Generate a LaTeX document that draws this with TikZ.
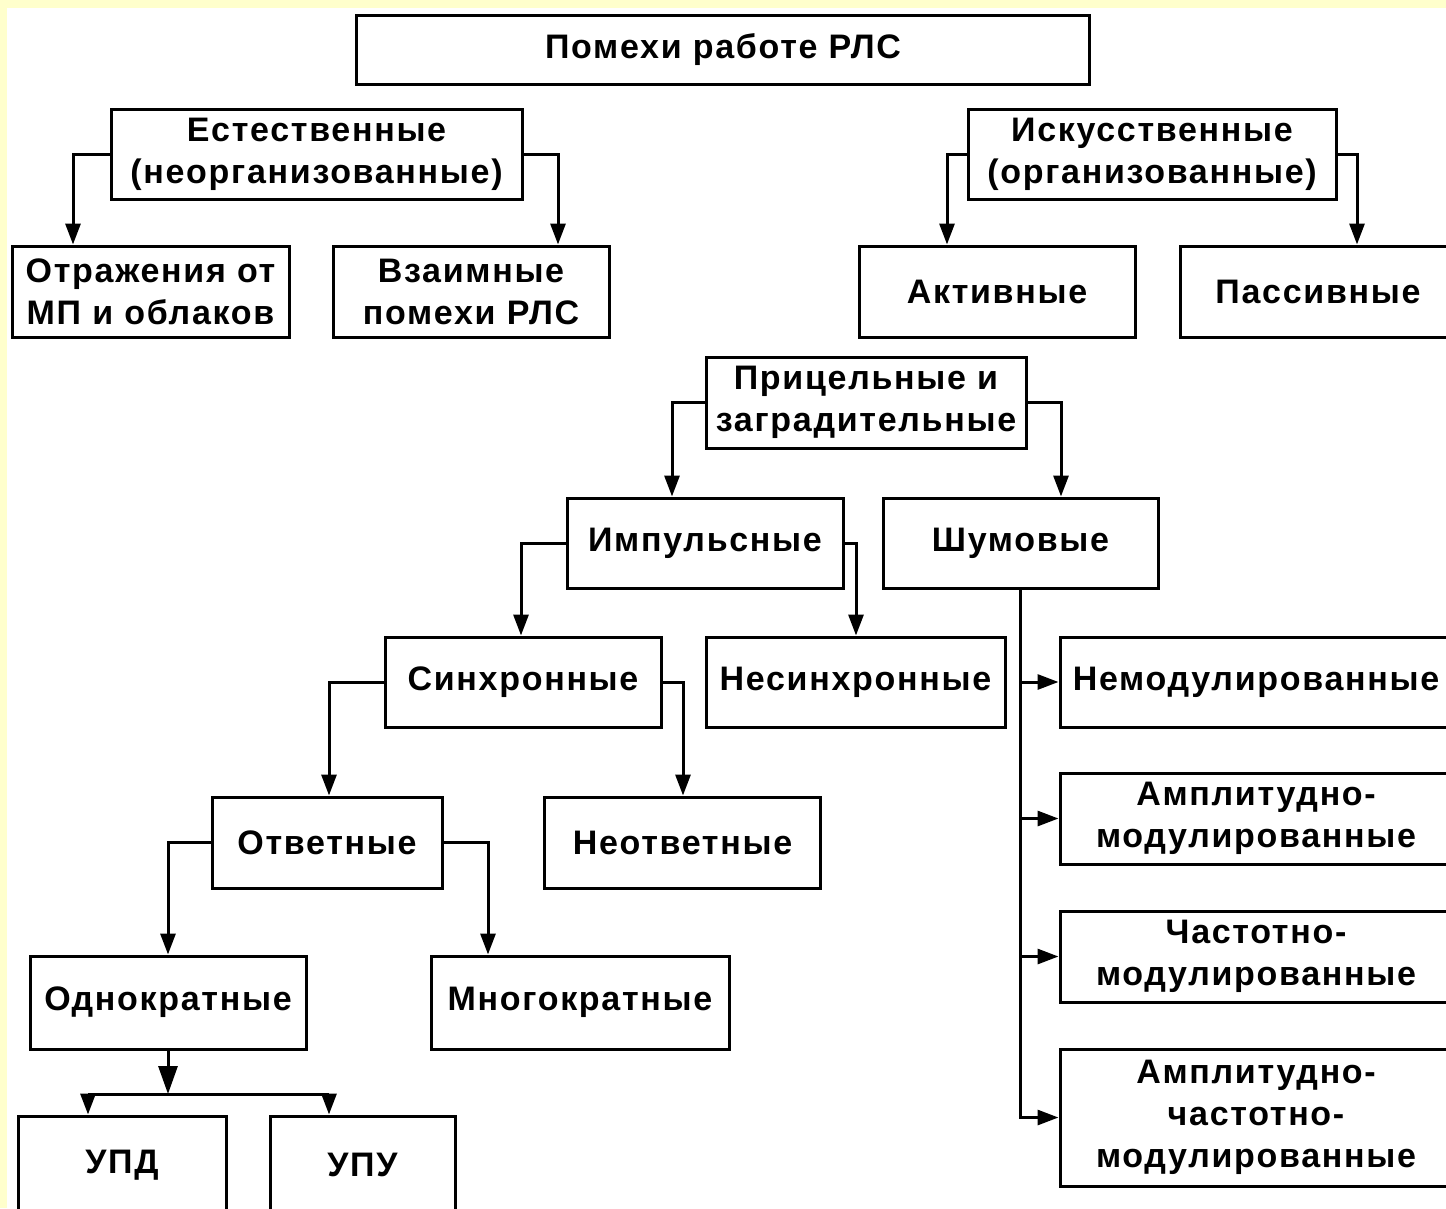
\documentclass[tikz,border=0pt]{standalone}
\usepackage{fontspec}
\setmainfont{Liberation Sans}[LetterSpace=5]
\usetikzlibrary{arrows.meta}

\definecolor{pageyellow}{HTML}{FFFFCC}

\begin{document}
\begin{tikzpicture}[x=1pt, y=-1pt,
    box/.style={draw, line width=3pt, minimum width=276pt, minimum height=90pt,
        inner sep=0pt, align=center, font=\fontsize{34}{42}\selectfont\bfseries},
    link/.style={line width=3pt},
    arr/.style={link, -{Triangle[length=21pt, width=15pt]}},
    bigarr/.style={link, -{Triangle[length=28pt, width=19pt]}}]
% Page and margins
\fill[pageyellow] (0,0) rectangle (1446,1208);
\fill[white] (7,8) rectangle (1446,1208);
\useasboundingbox (0,0) rectangle (1446,1208);

% Upper levels
\node[box, minimum width=733pt, minimum height=69pt] (top) at (723,50) {Помехи работе РЛС};
\node[box, minimum width=411pt] (nat) at (316.5,154) {Естественные\\(неорганизованные)};
\node[box, minimum width=368pt] (art) at (1152,154) {Искусственные\\(организованные)};
\node[box, minimum width=277pt, minimum height=91pt] (refl) at (150.5,291.5) {Отражения от\\МП и облаков};
\node[box, minimum height=91pt] (mutual) at (471,291.5) {Взаимные\\помехи РЛС};
\node[box, minimum height=91pt] (active) at (997,291.5) {Активные};
\node[box, minimum height=91pt] (passive) at (1318,291.5) {Пассивные};
\node[box, minimum width=320pt, minimum height=91pt] (aim) at (866,402.5) {Прицельные и\\заградительные};

% Pulse branch
\node[box] (pulse) at (705,543) {Импульсные};
\node[box, minimum width=275pt] (noise) at (1020.5,543) {Шумовые};
\node[box] (sync) at (523,682) {Синхронные};
\node[box, minimum width=299pt] (async) at (855.5,682) {Несинхронные};
\node[box, minimum width=230pt, minimum height=91pt] (resp) at (327,842.5) {Ответные};
\node[box, minimum height=91pt] (nonresp) at (682.5,842.5) {Неответные};
\node[box, minimum height=93pt] (single) at (168,1002.5) {Однократные};
\node[box, minimum width=298pt, minimum height=93pt] (multi) at (580,1002.5) {Многократные};
\node[box, minimum width=208pt, minimum height=98pt] (upd) at (122,1165) {УПД};
\node[box, minimum width=185pt, minimum height=98pt] (upu) at (362.5,1165) {УПУ};

% Noise branch
\node[box, minimum width=392pt] (nomod) at (1256,682) {Немодулированные};
\node[box, minimum width=392pt, minimum height=91pt] (am) at (1256,818.5) {Амплитудно-\\модулированные};
\node[box, minimum width=392pt, minimum height=91pt] (fm) at (1256,956.5) {Частотно-\\модулированные};
\node[box, minimum width=392pt, minimum height=137pt] (afm) at (1256,1117.5) {Амплитудно-\\частотно-\\модулированные};

% Side connectors: parent anchor / child / x of the drop
\foreach \from/\to/\xdrop in {nat.west/refl/73, nat.east/mutual/558,
    art.west/active/947, art.east/passive/1357,
    aim.west/pulse/672, aim.east/noise/1061,
    pulse.west/sync/521, pulse.east/async/856,
    sync.west/resp/329, sync.east/nonresp/683,
    resp.west/single/168, resp.east/multi/488} {
    \draw[arr] (\from) -| (\xdrop,0 |- \to.north);
}

% Noise trunk
\draw[arr] (noise.south) |- (afm.west);
\foreach \to in {nomod, am, fm} {
    \draw[arr] (noise.south |- \to.west) -- (\to.west);
}

% Single-shot split
\coordinate (split) at (single.south |- 0,1094);
\coordinate (splitL) at (88,1094);
\coordinate (splitR) at (329,1094);
\draw[bigarr] (single.south) -- (split);
\draw[link] (splitL) -- (splitR);
\draw[arr] (splitL) -- (splitL |- upd.north);
\draw[arr] (splitR) -- (splitR |- upu.north);

\end{tikzpicture}
\end{document}
